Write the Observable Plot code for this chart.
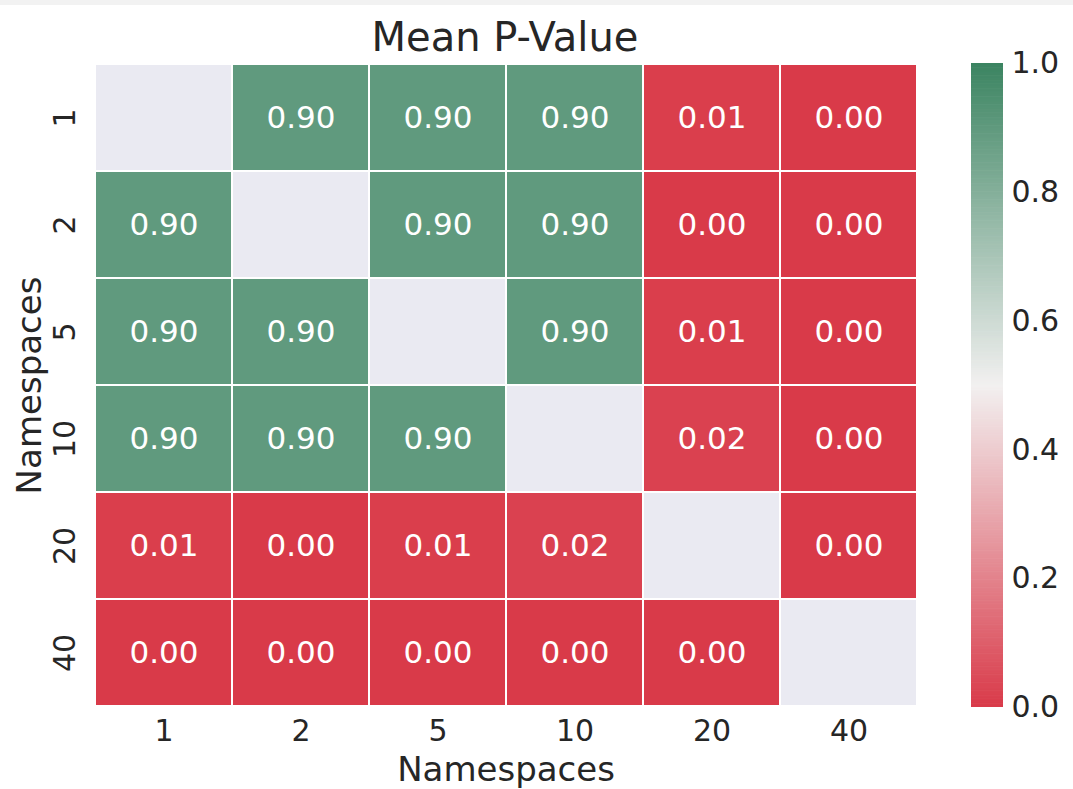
<!DOCTYPE html>
<html>
<head>
<meta charset="utf-8">
<script src="https://cdn.jsdelivr.net/npm/d3@7"></script>
<script src="https://cdn.jsdelivr.net/npm/@observablehq/plot@0.6"></script>
<style>
  html, body { margin: 0; padding: 0; background: #ffffff; }
  #wrap { position: relative; width: 1073px; height: 789px; overflow: hidden; font-family: "DejaVu Sans", sans-serif; }
  #band { position: absolute; left: 0; top: 0; width: 1073px; height: 5px; background: #f2f2f2; }
  #title { position: absolute; left: 255px; width: 500px; top: 13px; text-align: center; font-size: 40px; color: #262626; line-height: 48px; }
  #main { position: absolute; left: 0; top: 0; }
  #cbar { position: absolute; left: 960px; top: 0; }
</style>
</head>
<body>
<div id="wrap">
  <div id="band"></div>
  <div id="main"></div>
  <div id="cbar"></div>
  <div id="title">Mean P-Value</div>
</div>
<script>
// Categories (namespaces)
const categories = ["1", "2", "5", "10", "20", "40"];
// Mean p-values, rows = y category, columns = x category (null = diagonal / masked)
const row1  = [null, 0.90, 0.90, 0.90, 0.01, 0.00];
const row2  = [0.90, null, 0.90, 0.90, 0.00, 0.00];
const row5  = [0.90, 0.90, null, 0.90, 0.01, 0.00];
const row10 = [0.90, 0.90, 0.90, null, 0.02, 0.00];
const row20 = [0.01, 0.00, 0.01, 0.02, null, 0.00];
const row40 = [0.00, 0.00, 0.00, 0.00, 0.00, null];
const colorbarTicks = [0.0, 0.2, 0.4, 0.6, 0.8, 1.0];
const titleText = "Mean P-Value";
const axisLabel = "Namespaces";

const rows = [row1, row2, row5, row10, row20, row40];
const cells = [];
rows.forEach((r, i) => r.forEach((v, j) => cells.push({x: categories[j], y: categories[i], v})));

const interp = d3.piecewise(d3.interpolateRgb, ["#d93a49", "#f2f0f0", "#3b8461"]);
const fontFam = "DejaVu Sans, sans-serif";

const main = Plot.plot({
  width: 960,
  height: 789,
  marginLeft: 93,
  marginRight: 42,
  marginTop: 63,
  marginBottom: 82,
  style: {fontFamily: fontFam, fontSize: "30px", color: "#262626", background: "transparent"},
  x: {type: "band", domain: categories, padding: 0, label: null},
  y: {type: "band", domain: categories, padding: 0, label: null},
  color: {type: "linear", domain: [0, 1], interpolate: () => interp},
  marks: [
    Plot.cell(cells.filter(d => d.v === null), {x: "x", y: "y", fill: "#eaeaf2", stroke: "white", strokeWidth: 2}),
    Plot.cell(cells.filter(d => d.v !== null), {x: "x", y: "y", fill: "v", stroke: "white", strokeWidth: 2}),
    Plot.text(cells.filter(d => d.v !== null), {x: "x", y: "y", text: d => d3.format(".2f")(d.v), fill: "white", fontSize: 31}),
    Plot.axisX({tickSize: 0, tickPadding: 12, fontSize: 30, label: null}),
    Plot.axisY({tickSize: 0, tickPadding: 19, tickRotate: -90, fontSize: 30, label: null}),
    Plot.text([axisLabel], {frameAnchor: "bottom", textAnchor: "middle", lineAnchor: "middle", dy: 63, fontSize: 34, fill: "#262626"}),
    Plot.text([axisLabel], {frameAnchor: "left", textAnchor: "middle", lineAnchor: "middle", dx: -63, rotate: -90, fontSize: 34, fill: "#262626"})
  ]
});
document.getElementById("main").appendChild(main);

// Colorbar
const steps = d3.range(0, 1, 0.0025).map(t => ({y1: t, y2: Math.min(1, t + 0.0035)}));
const cbar = Plot.plot({
  width: 113,
  height: 789,
  marginLeft: 11,
  marginRight: 70,
  marginTop: 63,
  marginBottom: 82,
  style: {fontFamily: fontFam, fontSize: "30px", color: "#262626", background: "transparent"},
  x: {domain: [0, 1], axis: null},
  y: {domain: [0, 1], label: null},
  color: {type: "linear", domain: [0, 1], interpolate: () => interp},
  marks: [
    Plot.rectY(steps, {x1: 0, x2: 1, y1: "y1", y2: "y2", fill: d => (d.y1 + d.y2) / 2}),
    Plot.axisY({anchor: "right", ticks: colorbarTicks, tickFormat: d3.format(".1f"), tickSize: 0, tickPadding: 8, fontSize: 30, label: null})
  ]
});
document.getElementById("cbar").appendChild(cbar);
</script>
</body>
</html>
